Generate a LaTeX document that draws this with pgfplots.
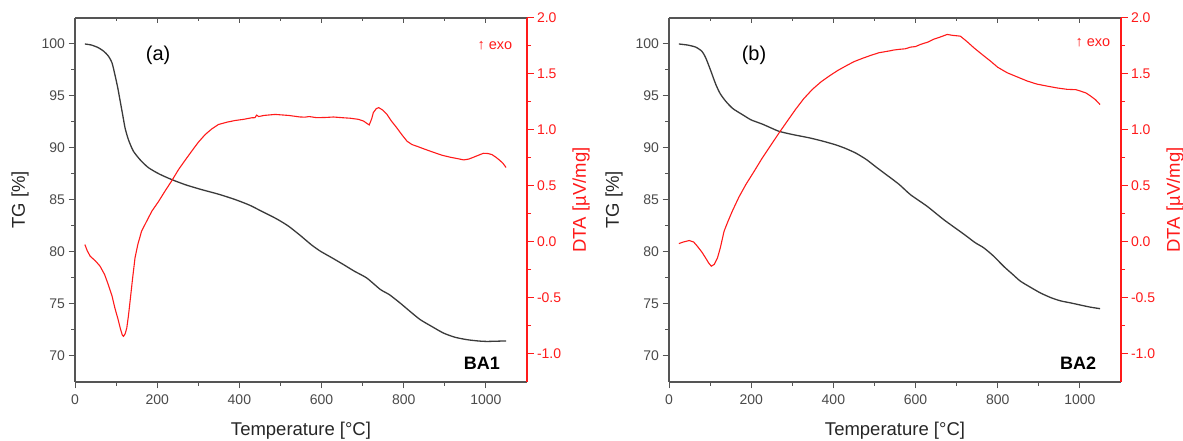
\documentclass[border=0pt]{standalone}
\usepackage{pgfplots}
\pgfplotsset{compat=1.18}
\usepackage{pgfplotstable}
\usepackage{fontspec}
\setmainfont{Liberation Sans}
\definecolor{axgray}{HTML}{555555}
\definecolor{tggray}{HTML}{3A3A3A}
\definecolor{lblgray}{HTML}{4A4A4A}
\definecolor{dtared}{HTML}{FF1A1A}

\pgfplotstableread{
T TG
24 100.0
40 99.9
57 99.64
70 99.3
81 98.85
90 98.2
97 97.07
104 95.8
110 94.5
116 93.2
122 91.9
130 90.8
142 89.7
160 88.8
179 88.1
205 87.5
235 86.97
270 86.45
308 86.0
350 85.55
390 85.04
425 84.5
455 83.9
490 83.2
519 82.5
548 81.6
575 80.7
597 80.08
625 79.45
653 78.8
680 78.15
710 77.5
743 76.4
765 75.9
791 75.1
815 74.3
840 73.5
870 72.8
897 72.2
925 71.8
954 71.57
980 71.45
1002 71.4
1049 71.45
}\tgA

\pgfplotstableread{
T D
24 -0.023
30 -0.08
37 -0.127
50 -0.17
61 -0.216
72 -0.29
81 -0.381
90 -0.48
97 -0.589
104 -0.68
110 -0.768
115 -0.83
118 -0.842
122 -0.82
126 -0.768
130 -0.66
134 -0.53
140 -0.33
146 -0.143
153 -0.02
162 0.096
175 0.19
187 0.275
203 0.36
219 0.454
236 0.55
252 0.647
268 0.73
284 0.811
300 0.89
317 0.96
333 1.01
349 1.049
370 1.07
390 1.085
410 1.095
430 1.109
438 1.11
442 1.133
447 1.12
460 1.13
487 1.139
520 1.13
548 1.116
560 1.115
570 1.12
588 1.11
610 1.112
629 1.116
650 1.11
670 1.105
690 1.095
702 1.08
716 1.045
722 1.1
726 1.155
733 1.19
739 1.2
748 1.18
759 1.14
770 1.08
783 1.02
795 0.96
808 0.90
820 0.87
832 0.855
850 0.83
873 0.80
893 0.775
913 0.757
930 0.745
946 0.733
958 0.74
970 0.757
982 0.775
994 0.792
1005 0.79
1015 0.78
1025 0.755
1035 0.725
1042 0.70
1049 0.665
}\dtaA

\pgfplotstableread{
T TG
24 100.0
45 99.9
65 99.7
80 99.3
89 98.7
100 97.6
114 96.1
125 95.2
138 94.5
155 93.8
179 93.2
200 92.7
227 92.3
250 91.9
268 91.6
300 91.3
341 90.98
375 90.65
406 90.3
430 89.95
455 89.5
480 88.9
503 88.2
530 87.4
560 86.5
588 85.5
628 84.4
669 83.1
718 81.7
745 80.9
766 80.4
790 79.6
815 78.6
835 77.9
855 77.2
880 76.6
904 76.06
930 75.6
953 75.3
978 75.1
1001 74.9
1025 74.7
1049 74.55
}\tgB

\pgfplotstableread{
T D
24 -0.014
35 0.0
49 0.013
60 0.0
69 -0.038
80 -0.09
89 -0.142
97 -0.19
103 -0.216
110 -0.2
118 -0.142
125 -0.05
134 0.096
143 0.18
154 0.275
170 0.4
187 0.513
207 0.63
227 0.75
248 0.865
268 0.975
288 1.08
308 1.184
328 1.28
349 1.363
370 1.43
390 1.482
410 1.53
430 1.571
450 1.61
471 1.64
490 1.665
511 1.69
535 1.705
547 1.714
560 1.72
575 1.725
588 1.74
600 1.745
612 1.764
630 1.785
644 1.81
660 1.83
677 1.853
690 1.845
709 1.838
725 1.79
742 1.734
760 1.68
782 1.616
800 1.56
823 1.511
850 1.47
872 1.437
895 1.41
920 1.392
945 1.375
969 1.363
990 1.36
1001 1.348
1015 1.33
1026 1.303
1038 1.27
1049 1.227
}\dtaB

\pgfplotsset{
  base/.style={scale only axis, width=452pt, height=364pt, xmin=0, xmax=1100,
    anchor=south west,
    /pgf/number format/assume math mode=true,
    /pgf/number format/1000 sep={},
    tick label style={font=\fontsize{14}{16}\selectfont},
    label style={font=\fontsize{18.5}{20}\selectfont},
    major tick length=6.5pt, minor tick length=4pt},
  tgaxis/.style={base, ymin=67.5, ymax=102.5,
    axis x line*=bottom, axis y line*=left, tick align=outside,
    xtick={0,200,...,1000}, minor x tick num=1,
    ytick={70,75,...,100}, minor y tick num=1,
    axis line style={axgray, line width=1.2pt},
    tick style={axgray, line width=1pt},
    tick label style={text=lblgray},
    xticklabel style={yshift=-3pt},
    xlabel={Temperature [°C]}, ylabel={TG [\%]},
    xlabel style={at={(axis description cs:0.5,0)}, anchor=center, yshift=-49pt, text=black!85},
    ylabel style={at={(axis description cs:0,0.5)}, anchor=center, yshift=55pt, text=black!85}},
  dtaaxis/.style={base, ymin=-1.25, ymax=2.0,
    axis y line*=right, axis x line=none, tick align=outside,
    ytick={-1,-0.5,0,0.5,1,1.5,2}, minor y tick num=1,
    axis line style={dtared, line width=1.2pt},
    tick style={dtared, line width=1pt},
    yticklabel style={text=dtared, /pgf/number format/.cd, fixed, fixed zerofill, precision=1},
    ylabel={DTA [µV/mg]},
    ylabel style={at={(axis description cs:1,0.5)}, anchor=center, yshift=-54pt, text=dtared}},
  topaxis/.style={base, ymin=0, ymax=1, axis x line*=top, axis y line=none,
    tick align=inside, xtick={0,200,...,1000}, minor x tick num=1, xticklabels={},
    major tick length=5.5pt, minor tick length=3.5pt,
    axis line style={axgray, line width=1.2pt}, tick style={axgray, line width=1pt}},
}

\begin{document}
\begin{tikzpicture}
% ---------- panel (a)
\begin{axis}[topaxis, at={(75pt,59pt)}]
\end{axis}
\begin{axis}[tgaxis, at={(75pt,59pt)}]
\addplot[tggray, line width=1.3pt, smooth, tension=0.4] table[x=T, y=TG] {\tgA};
\node[font=\fontsize{20}{22}\selectfont] at (rel axis cs:0.184,0.898) {(a)};
\node[anchor=east, font=\bfseries\fontsize{18}{20}\selectfont] at (rel axis cs:0.948,0.052) {BA1};
\node[anchor=east, text=dtared, font=\fontsize{14.5}{16}\selectfont] at (rel axis cs:0.975,0.923) {↑ exo};
\end{axis}
\begin{axis}[dtaaxis, at={(75pt,59pt)}]
\addplot[dtared, line width=1.1pt] table[x=T, y=D] {\dtaA};
\end{axis}
% ---------- panel (b)
\begin{axis}[topaxis, at={(669pt,59pt)}]
\end{axis}
\begin{axis}[tgaxis, at={(669pt,59pt)}]
\addplot[tggray, line width=1.3pt, smooth, tension=0.4] table[x=T, y=TG] {\tgB};
\node[font=\fontsize{20}{22}\selectfont] at (rel axis cs:0.188,0.898) {(b)};
\node[anchor=east, font=\bfseries\fontsize{18}{20}\selectfont] at (rel axis cs:0.953,0.052) {BA2};
\node[anchor=east, text=dtared, font=\fontsize{14.5}{16}\selectfont] at (rel axis cs:0.984,0.931) {↑ exo};
\end{axis}
\begin{axis}[dtaaxis, at={(669pt,59pt)}]
\addplot[dtared, line width=1.1pt] table[x=T, y=D] {\dtaB};
\end{axis}
\pgfresetboundingbox
\useasboundingbox (0,0) rectangle (1183pt,441pt);
\end{tikzpicture}
\end{document}
